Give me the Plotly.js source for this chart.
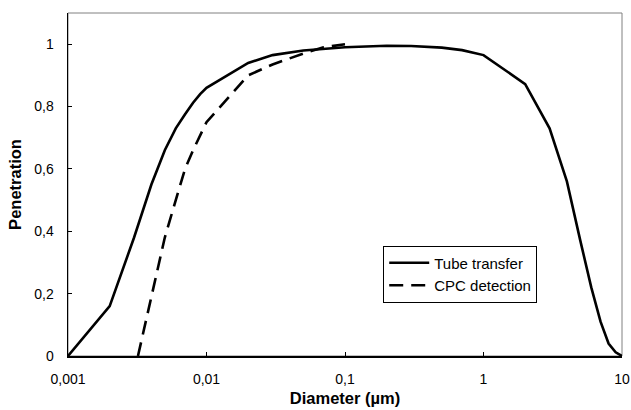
<!DOCTYPE html>
<html><head><meta charset="utf-8">
<script src="https://cdn.plot.ly/plotly-3.0.1.min.js"></script>
<style>html,body{margin:0;padding:0;background:#fff}</style>
</head><body><div id="chart" style="width:631px;height:410px"></div>
<script>
const tubeDiameter = [0.001,0.002,0.003,0.004,0.005,0.006,0.007,0.008,0.009,0.01,0.02,0.03,0.05,0.1,0.2,0.3,0.5,0.7,1,2,3,4,5,6,7,8,9,10];
const tubePenetration = [0,0.16,0.38,0.55,0.66,0.73,0.775,0.812,0.84,0.86,0.94,0.965,0.98,0.99,0.995,0.994,0.989,0.981,0.965,0.872,0.73,0.56,0.37,0.22,0.11,0.04,0.012,0];
const cpcDiameter = [0.0032,0.004,0.005,0.006,0.007,0.008,0.01,0.02,0.03,0.05,0.07,0.1];
const cpcPenetration = [0,0.19,0.38,0.5,0.6,0.66,0.75,0.9,0.935,0.97,0.99,1.0];
const seriesNames = ['Tube transfer','CPC detection'];
const xTickVals = [0.001,0.01,0.1,1,10];
const xTickText = ['0,001','0,01','0,1','1','10'];
const yTickVals = [0,0.2,0.4,0.6,0.8,1];
const yTickText = ['0','0,2','0,4','0,6','0,8','1'];

const traces = [
  {x: tubeDiameter, y: tubePenetration, name: seriesNames[0], type:'scatter', mode:'lines',
   line:{color:'#000', width:2.6}},
  {x: cpcDiameter, y: cpcPenetration, name: seriesNames[1], type:'scatter', mode:'lines',
   line:{color:'#000', width:2.6, dash:'14px,8px'}}
];

const layout = {
  width:631, height:410,
  margin:{l:68, r:9, t:13, b:54, pad:0},
  paper_bgcolor:'#fff', plot_bgcolor:'#fff',
  font:{family:'"Liberation Sans", Arial, sans-serif', size:14, color:'#000'},
  separators:', ',
  showlegend:true,
  legend:{x:0.569, y:0.322, xanchor:'left', yanchor:'top', bgcolor:'#fff',
          bordercolor:'#000', borderwidth:1, font:{size:15}, itemwidth:40, tracegroupgap:0},
  xaxis:{type:'log', range:[-3,1], tickvals:xTickVals, ticktext:xTickText,
         ticks:'inside', ticklen:4, tickwidth:1, tickcolor:'#000',
         showline:true, linecolor:'#000', linewidth:1.5, showgrid:false, zeroline:false,
         ticklabelstandoff:10,
         title:{text:'Diameter (µm)', font:{size:16.5, weight:'bold'}, standoff:6}},
  yaxis:{range:[0,1.1], tickvals:yTickVals, ticktext:yTickText,
         ticks:'inside', ticklen:4, tickwidth:1, tickcolor:'#000',
         showline:true, linecolor:'#000', linewidth:1.5, showgrid:false, zeroline:false,
         ticklabelstandoff:10,
         title:{text:'Penetration', font:{size:16.5, weight:'bold'}, standoff:8}},
  shapes:[{type:'rect', xref:'paper', yref:'paper', x0:0, x1:1, y0:0, y1:1,
           line:{color:'#808080', width:1}, layer:'below'}]
};

Plotly.newPlot('chart', traces, layout, {displayModeBar:false, staticPlot:true});
</script>
</body></html>
